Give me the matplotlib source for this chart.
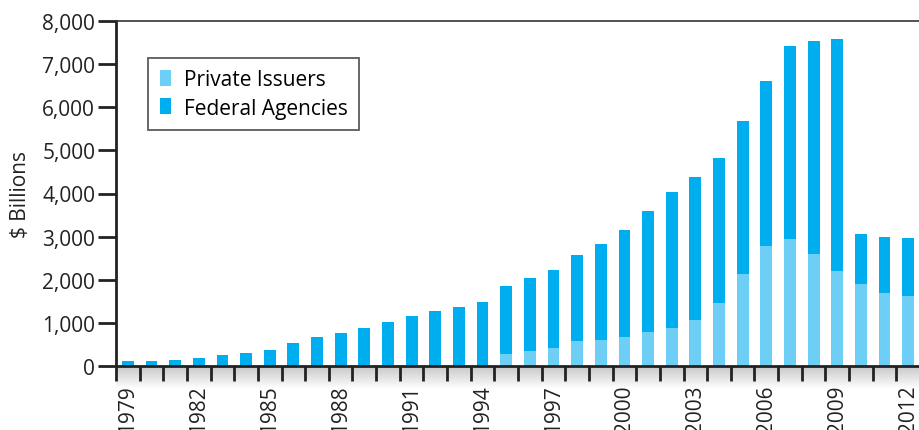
import matplotlib.pyplot as plt
import numpy as np

years = list(range(1979, 2013))
total = [108, 108, 130, 190, 255, 300, 370, 540, 670, 765,
         880, 1020, 1160, 1275, 1370, 1485, 1855, 2040, 2225, 2575,
         2830, 3150, 3590, 4030, 4380, 4820, 5680, 6610, 7420, 7540,
         7590, 3060, 2990, 2970]
private = [0, 0, 0, 0, 0, 0, 0, 0, 0, 0,
           0, 0, 0, 0, 0, 0, 278, 348, 417, 580,
           603, 670, 795, 880, 1065, 1460, 2130, 2780, 2950, 2600,
           2200, 1900, 1690, 1620]
federal = [t - p for t, p in zip(total, private)]
tick_years = list(range(1979, 2013, 3))

PRIVATE_COLOR = "#6DCFF6"
FEDERAL_COLOR = "#00AEEF"

plt.rcParams["font.family"] = ["Open Sans", "DejaVu Sans"]

fig = plt.figure(figsize=(9.2, 4.31), dpi=100)
W, H = 920, 431
ax_left, ax_top, ax_bottom = 116, 22, 367
ax = fig.add_axes([ax_left / W, 1 - ax_bottom / H, (W - ax_left) / W, (ax_bottom - ax_top) / H])

# soft shadow below the x axis
shadow = fig.add_axes([ax_left / W, 1 - 390 / H, (W - ax_left) / W, 23 / H], zorder=-1)
grad = np.linspace(0.78, 1.0, 50).reshape(-1, 1)
shadow.imshow(grad, aspect="auto", cmap="gray", vmin=0, vmax=1, extent=[0, 1, 0, 1])
shadow.axis("off")

x = np.array(years)
ax.bar(x, private, width=0.5, color=PRIVATE_COLOR, label="Private Issuers", zorder=2)
ax.bar(x, federal, width=0.5, bottom=private, color=FEDERAL_COLOR, label="Federal Agencies", zorder=2)

span = (W - ax_left) / 23.72
ax.set_xlim(1978.5, 1978.5 + span)
ax.set_ylim(0, 8000)
ax.set_yticks(range(0, 8001, 1000))
ax.set_yticklabels([f"{v:,}" for v in range(0, 8001, 1000)], fontsize=15, color="#222222")
ax.set_xticks(np.arange(1978.5, 2013, 1.0))
ax.set_xticklabels([])
ax.set_xticks(tick_years, minor=True)
ax.set_xticklabels([str(y) for y in tick_years], minor=True, rotation=90, fontsize=15,
                   color="#222222", va="top")
ax.tick_params(axis="x", which="major", direction="out", length=11, width=2, color="#222222")
ax.tick_params(axis="x", which="minor", length=0, pad=13)
ax.tick_params(axis="y", direction="out", length=13, width=2, color="#222222", pad=2)
ax.set_ylabel("$ Billions", fontsize=15, color="#222222", labelpad=8)

for side in ("left", "bottom"):
    ax.spines[side].set_linewidth(2)
    ax.spines[side].set_color("#222222")
ax.spines["top"].set_linewidth(1.2)
ax.spines["top"].set_color("#333333")
ax.spines["right"].set_visible(False)

leg = ax.legend(loc="upper left", bbox_to_anchor=(0.04, 0.893), fontsize=15, frameon=True,
                fancybox=False, edgecolor="#333333", handlelength=0.55, handleheight=0.8,
                handletextpad=0.6, borderpad=0.55, labelspacing=0.35, borderaxespad=0)
leg.get_frame().set_linewidth(1.3)

fig.savefig("out.png", dpi=100)
